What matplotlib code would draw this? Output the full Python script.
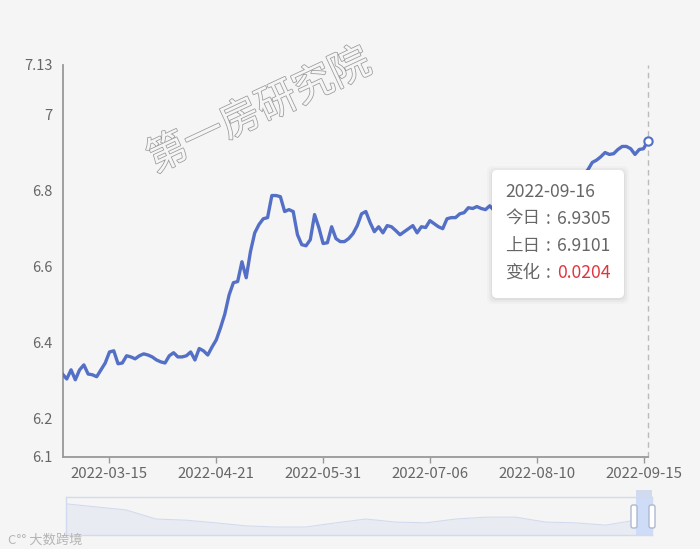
import matplotlib.pyplot as plt
import matplotlib.patheffects as pe
from matplotlib.patches import FancyBboxPatch, Rectangle
import numpy as np
import pandas as pd

plt.rcParams['font.family'] = ['Noto Sans CJK SC', 'DejaVu Sans']

# trading days (China FX calendar) shown in the chart
holidays = ['2022-04-04', '2022-04-05', '2022-05-02', '2022-05-03',
            '2022-05-04', '2022-06-03', '2022-09-12']
dates = [d.strftime('%Y-%m-%d') for d in
         pd.bdate_range('2022-02-28', '2022-09-16', freq='C', holidays=holidays)]

# USD/CNY central parity
rate = [
    6.318, 6.305, 6.329, 6.303, 6.329, 6.342, 6.318, 6.316, 6.311, 6.329,
    6.347, 6.376, 6.379, 6.345, 6.347, 6.366, 6.363, 6.358, 6.366, 6.371,
    6.368, 6.363, 6.355, 6.350, 6.347, 6.366, 6.374, 6.363, 6.363, 6.366,
    6.376, 6.355, 6.385, 6.379, 6.368, 6.389, 6.408, 6.440, 6.476, 6.526,
    6.558, 6.561, 6.613, 6.571, 6.640, 6.689, 6.711, 6.726, 6.729, 6.787,
    6.787, 6.784, 6.745, 6.750, 6.745, 6.684, 6.658, 6.655, 6.671, 6.737,
    6.703, 6.661, 6.663, 6.705, 6.674, 6.666, 6.666, 6.674, 6.687, 6.708,
    6.739, 6.745, 6.716, 6.692, 6.705, 6.689, 6.708, 6.705, 6.695, 6.684,
    6.692, 6.700, 6.708, 6.689, 6.705, 6.703, 6.721, 6.713, 6.705, 6.700,
    6.726, 6.729, 6.729, 6.739, 6.742, 6.755, 6.753, 6.758, 6.753, 6.750,
    6.760, 6.748, 6.741, 6.744, 6.747, 6.746, 6.760, 6.761, 6.746, 6.758,
    6.760, 6.758, 6.732, 6.739, 6.750, 6.773, 6.785, 6.786, 6.807, 6.820,
    6.827, 6.827, 6.842, 6.855, 6.874, 6.880, 6.889, 6.900, 6.895, 6.897,
    6.908, 6.916, 6.916, 6.910, 6.895, 6.908, 6.9101, 6.9305,
]
assert len(rate) == len(dates)

tick_dates = ['2022-03-15', '2022-04-21', '2022-05-31',
              '2022-07-06', '2022-08-10', '2022-09-15']
ytick_vals = [6.1, 6.2, 6.4, 6.6, 6.8, 7.0, 7.13]
ytick_labels = ['6.1', '6.2', '6.4', '6.6', '6.8', '7', '7.13']

tooltip_date = '2022-09-16'
tooltip_rows = [('今日', '6.9305'), ('上日', '6.9101'), ('变化', '0.0204')]

# overview (dataZoom) shadow, height as share of the slider
overview_level = [0.82, 0.74, 0.66, 0.42, 0.39, 0.32, 0.24, 0.21, 0.21, 0.32,
                  0.42, 0.34, 0.32, 0.42, 0.47, 0.47, 0.34, 0.32, 0.26, 0.39]

W, H = 700, 549
BG = '#f5f5f5'
BLUE = '#5470c6'
GREY = '#666666'


def box(x0, y0, x1, y1):
    return [x0 / W, 1 - y1 / H, (x1 - x0) / W, (y1 - y0) / H]


fig = plt.figure(figsize=(W / 100, H / 100), dpi=100, facecolor=BG)

# main chart
ax = fig.add_axes(box(62.5, 65, 647.8, 457))
ax.set_facecolor('none')
x = np.arange(len(rate))
ax.plot(x, rate, color=BLUE, lw=2.4, solid_joinstyle='round', zorder=3)
ax.plot(x[-1], rate[-1], 'o', ms=6, mfc='white', mec=BLUE, mew=1.5,
        clip_on=False, zorder=4)
ax.axvline(x[-1], color='#bbbbbb', lw=1, ls=(0, (4, 3)), clip_on=False, zorder=2)
ax.set_xlim(0, len(rate) - 1)
ax.set_ylim(6.1, 7.13)
ax.set_yticks(ytick_vals)
ax.set_yticklabels(ytick_labels)
ax.set_xticks([dates.index(d) for d in tick_dates])
ax.set_xticklabels(tick_dates)
for s in ['top', 'right']:
    ax.spines[s].set_visible(False)
for s in ['left', 'bottom']:
    ax.spines[s].set_color('#999999')
    ax.spines[s].set_linewidth(1.3)
ax.tick_params(axis='y', length=0, pad=7, labelcolor=GREY, labelsize=10.5)
ax.tick_params(axis='x', length=4, width=1, color='#999999', pad=3,
               labelcolor=GREY, labelsize=10.8)

# overlay in pixel units: watermark, tooltip, logo
ov = fig.add_axes([0, 0, 1, 1], zorder=5)
ov.set_xlim(0, W)
ov.set_ylim(H, 0)
ov.axis('off')
ov.patch.set_alpha(0)

ov.text(259, 111, '第一房研究院', fontsize=29, rotation=25, color=BG,
        ha='center', va='center', zorder=1,
        path_effects=[pe.withStroke(linewidth=1.1, foreground='#9a9a9a')])

for grow, a in [(6, 0.02), (4, 0.03), (2, 0.04)]:
    ov.add_patch(FancyBboxPatch((492 - grow + 1, 170 - grow + 2), 132 + 2 * grow - 2,
                                128 + 2 * grow - 2,
                                boxstyle='round,pad=0,rounding_size=6',
                                fc='black', ec='none', alpha=a, zorder=6))
ov.add_patch(FancyBboxPatch((492, 170), 132, 128,
                            boxstyle='round,pad=0,rounding_size=5',
                            fc='white', ec='none', zorder=7))
FS = 12.6
ov.text(505, 192, tooltip_date, fontsize=FS, color=GREY, va='center', zorder=8)
for i, (lab, val) in enumerate(tooltip_rows):
    yy = 219 + 27 * i
    ov.text(505, yy, lab, fontsize=FS, color=GREY, va='center', zorder=8)
    ov.text(548, yy, ':', fontsize=FS, color=GREY, va='center', ha='center', zorder=8)
    ov.text(557, yy, val, fontsize=FS, va='center', zorder=8,
            color='#e0353d' if lab == '变化' else GREY)

ov.text(8, 540, 'C°° 大数跨境', fontsize=9.5, color='#b5b5b5', va='center', zorder=8)

# dataZoom slider
sl = fig.add_axes(box(66, 497, 652, 535))
sl.set_xlim(0, 1)
sl.set_ylim(0, 1)
sl.set_facecolor('none')
sl.set_xticks([])
sl.set_yticks([])
for s in sl.spines.values():
    s.set_color('#d2dbee')
    s.set_linewidth(1)
ox = np.linspace(0, 0.972, len(overview_level))
sl.fill_between(ox, 0, overview_level, color='#d2dbee', alpha=0.35, lw=0)
sl.plot(ox, overview_level, color='#d2dbee', lw=0.8)
sl.axvspan(0.972, 1.0, color='#87afff', alpha=0.35, lw=0)

ov.add_patch(Rectangle((636, 490), 16, 7, fc='#d2dbee', ec='none', zorder=6))
for hx in [634, 652]:
    ov.add_patch(FancyBboxPatch((hx - 3, 505), 6, 23,
                                boxstyle='round,pad=0,rounding_size=2',
                                fc='white', ec='#acb8d1', lw=1, zorder=6))

fig.savefig('out.png', dpi=100, facecolor=BG)
